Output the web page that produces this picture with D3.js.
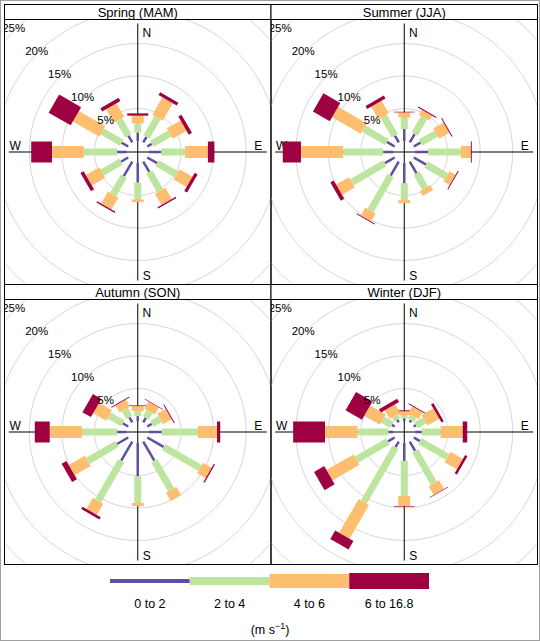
<!DOCTYPE html>
<html lang="en">
<head>
<meta charset="UTF-8">
<title>Wind rose by season</title>
<script src="https://d3js.org/d3.v7.min.js"></script>
<style>
  body { margin: 0; background: #fff; }
  text { font-family: "Liberation Sans", Arial, sans-serif; fill: #000; }
</style>
</head>
<body>
<svg id="chart" width="540" height="641"></svg>
<script>
// wind directions (degrees) and speed bins
var directions = [0, 30, 60, 90, 120, 150, 180, 210, 240, 270, 300, 330];
var speedBins = ["0 to 2", "2 to 4", "4 to 6", "6 to 16.8"];
var seasons = ["Spring (MAM)", "Summer (JJA)", "Autumn (SON)", "Winter (DJF)"];
var ringTicks = [5, 10, 15, 20, 25];

// frequency (%) per speed bin, one value per direction
var spring = [
  [1.3, 1.0, 0.8, 1.9, 1.75, 1.85, 3.0, 2.6, 1.3, 1.5, 1.2, 1.2],
  [1.4, 3.4, 3.2, 3.7, 3.45, 3.35, 2.6, 3.25, 3.3, 5.1, 3.4, 2.85],
  [1.2, 3.1, 2.45, 3.5, 2.3, 2.0, 0.4, 2.15, 2.4, 4.9, 4.7, 2.4],
  [0.35, 0.5, 0.55, 1.0, 0.5, 0.2, 0.0, 0.2, 0.55, 3.2, 3.9, 0.55]
];
var summer = [
  [1.85, 1.5, 1.2, 2.0, 2.2, 2.1, 3.1, 2.5, 1.75, 1.55, 1.4, 1.2],
  [1.75, 2.9, 2.8, 5.0, 3.6, 2.6, 2.6, 6.2, 5.9, 6.15, 4.1, 3.45],
  [0.8, 0.9, 1.8, 1.55, 1.1, 0.9, 0.5, 1.4, 2.25, 6.5, 5.1, 2.25],
  [0.1, 0.15, 0.15, 0.15, 0.15, 0.0, 0.0, 0.15, 0.6, 2.8, 3.0, 0.5]
];
var autumn = [
  [0.75, 0.8, 0.8, 2.0, 2.9, 3.4, 5.1, 3.4, 2.0, 1.5, 1.0, 0.9],
  [0.8, 1.15, 1.5, 5.55, 6.5, 5.15, 4.1, 7.1, 5.2, 5.4, 2.4, 1.4],
  [0.75, 1.25, 1.5, 2.95, 1.5, 1.5, 0.5, 2.0, 2.85, 4.95, 2.3, 1.25],
  [0.1, 0.1, 0.15, 0.5, 0.2, 0.0, 0.0, 0.4, 0.85, 2.3, 1.5, 0.15]
];
var winter = [
  [0.4, 0.4, 0.4, 1.0, 1.1, 1.65, 2.75, 1.0, 1.2, 0.75, 0.5, 0.5],
  [0.5, 0.7, 1.5, 2.9, 4.9, 5.75, 5.4, 9.75, 5.6, 4.75, 1.6, 0.65],
  [0.6, 1.25, 2.1, 3.4, 2.2, 1.55, 1.55, 6.0, 4.8, 5.0, 2.8, 1.55],
  [0.15, 0.15, 0.4, 0.7, 0.4, 0.1, 0.1, 1.5, 1.8, 4.9, 2.9, 0.6]
];
var seasonData = [spring, summer, autumn, winter];

var colours = ["#5E4FA2", "#BEE5A0", "#FDBF6F", "#9E0142"];
var paddleWidth = [2.5, 7, 12, 21];
var legendWidth = [4, 8, 14, 16];

var svg = d3.select("#chart");

// outer light frame of the image
svg.append("rect").attr("x", 0.5).attr("y", 0.5).attr("width", 539).attr("height", 640)
  .attr("fill", "none").attr("stroke", "#a0a0a0");

var padL = 4.5, padT = 4.5, panelW = 266.5, plotH = 265, stripH = 15;

// radius scale: inner offset of 11px, 6.5px per percent
var r = d3.scaleLinear().domain([0, 25]).range([11, 173.5]);

seasonData.forEach(function (data, k) {
  var col = k % 2, row = Math.floor(k / 2);
  var x0 = padL + col * panelW;
  var y0 = padT + row * (stripH + plotH);
  var cx = x0 + panelW / 2, cy = y0 + stripH + plotH / 2;

  var clipId = "clip" + k;
  svg.append("clipPath").attr("id", clipId)
    .append("rect").attr("x", x0).attr("y", y0 + stripH)
    .attr("width", panelW).attr("height", plotH);

  var g = svg.append("g").attr("clip-path", "url(#" + clipId + ")")
    .append("g").attr("transform", "translate(" + cx + "," + cy + ")");

  // grid rings
  g.selectAll("circle").data(ringTicks).enter().append("circle")
    .attr("r", function (d) { return r(d); })
    .attr("fill", "none").attr("stroke", "#d6d6d6").attr("stroke-width", 1);

  // cross axes
  g.append("line").attr("x1", -129).attr("x2", 129).attr("y1", 0).attr("y2", 0)
    .attr("stroke", "#000").attr("stroke-width", 1);
  g.append("line").attr("y1", -128.5).attr("y2", 128.5).attr("x1", 0).attr("x2", 0)
    .attr("stroke", "#000").attr("stroke-width", 1);

  // compass labels (drawn under the paddles)
  var compass = [
    { t: "N", x: 9, y: -119.5 },
    { t: "E", x: 120.5, y: -6.5 },
    { t: "S", x: 9, y: 123.5 },
    { t: "W", x: -122.5, y: -6.5 }
  ];
  g.selectAll("text.cmp").data(compass).enter().append("text")
    .attr("class", "cmp")
    .attr("x", function (d) { return d.x; })
    .attr("y", function (d) { return d.y; })
    .attr("dy", "0.35em").attr("text-anchor", "middle")
    .attr("font-size", 12)
    .text(function (d) { return d.t; });

  // paddles: stacked per direction
  directions.forEach(function (dir, i) {
    var cum = 0;
    var dg = g.append("g").attr("transform", "rotate(" + dir + ")");
    data.forEach(function (bin, j) {
      var start = cum, end = cum + bin[i];
      cum = end;
      if (bin[i] <= 0) return;
      dg.append("rect")
        .attr("x", -paddleWidth[j] / 2)
        .attr("y", -r(end))
        .attr("width", paddleWidth[j])
        .attr("height", r(end) - r(start))
        .attr("fill", colours[j]);
    });
  });

  // percentage labels along NW
  g.selectAll("text.pct").data(ringTicks).enter().append("text")
    .attr("class", "pct")
    .attr("x", function (d) { return -(r(d) + 2) * Math.SQRT1_2; })
    .attr("y", function (d) { return -(r(d) + 2) * Math.SQRT1_2; })
    .attr("dy", "0.35em").attr("text-anchor", "middle")
    .attr("font-size", 11.5)
    .text(function (d) { return d + "%"; });

  // strip
  svg.append("rect").attr("x", x0).attr("y", y0).attr("width", panelW).attr("height", stripH)
    .attr("fill", "#fff").attr("stroke", "#000").attr("stroke-width", 1);
  svg.append("text").attr("x", cx).attr("y", y0 + stripH / 2)
    .attr("dy", "0.35em").attr("text-anchor", "middle").attr("font-size", 13)
    .text(seasons[k]);

  // panel border
  svg.append("rect").attr("x", x0).attr("y", y0 + stripH).attr("width", panelW).attr("height", plotH)
    .attr("fill", "none").attr("stroke", "#000").attr("stroke-width", 1);
});

// legend
var lx = d3.scaleBand().domain(speedBins).range([110, 429]);
var lg = svg.append("g");
lg.selectAll("line").data(speedBins).enter().append("line")
  .attr("x1", function (d) { return lx(d); })
  .attr("x2", function (d) { return lx(d) + lx.bandwidth(); })
  .attr("y1", 581).attr("y2", 581)
  .attr("stroke", function (d, i) { return colours[i]; })
  .attr("stroke-width", function (d, i) { return legendWidth[i]; });
lg.selectAll("text").data(speedBins).enter().append("text")
  .attr("x", function (d) { return lx(d) + lx.bandwidth() / 2; })
  .attr("y", 604).attr("dy", "0.35em").attr("text-anchor", "middle")
  .attr("font-size", 12.5)
  .text(function (d) { return d; });

var unit = svg.append("text").attr("x", 270).attr("y", 634)
  .attr("text-anchor", "middle").attr("font-size", 12.5);
unit.append("tspan").text("(m s");
unit.append("tspan").attr("dy", -5).attr("font-size", 9).text("\u22121");
unit.append("tspan").attr("dy", 5).text(")");
</script>
</body>
</html>
